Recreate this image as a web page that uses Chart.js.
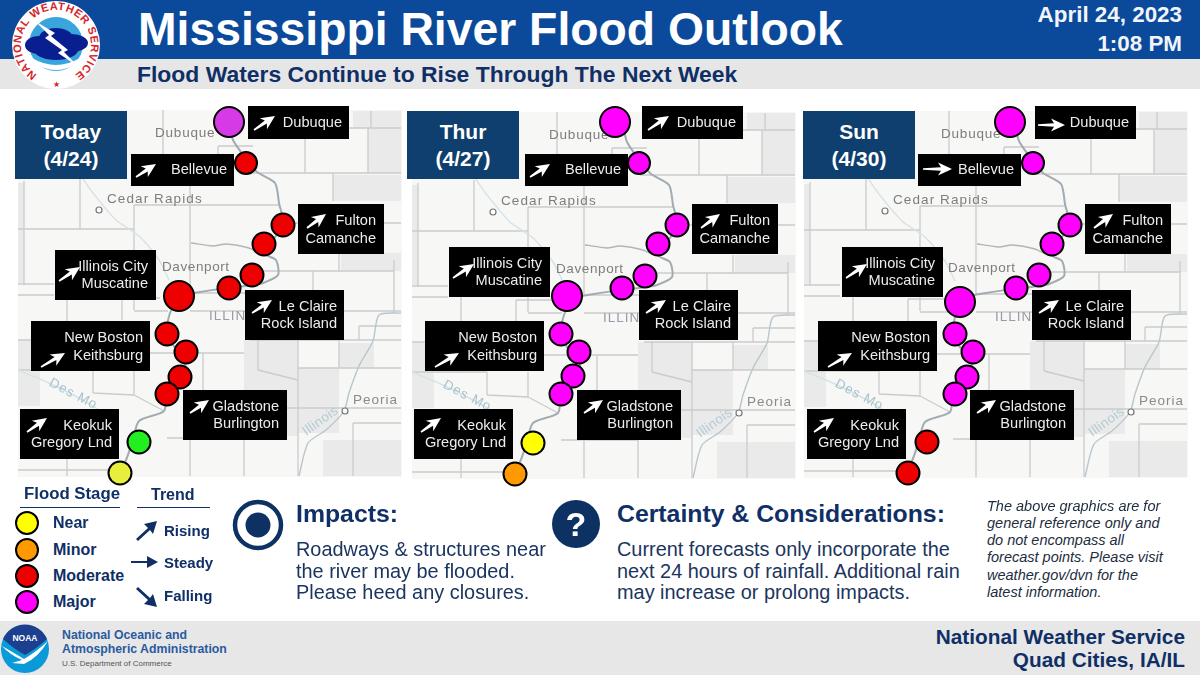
<!DOCTYPE html>
<html>
<head>
<meta charset="utf-8">
<title>Mississippi River Flood Outlook</title>
<script src="https://cdn.jsdelivr.net/npm/chart.js@4/dist/chart.umd.min.js"></script>
<style>
  html, body { margin: 0; padding: 0; background: #fff; }
  #page { position: relative; width: 1200px; height: 675px; overflow: hidden; font-family: "Liberation Sans", Arial, sans-serif; color: #0f2f66; }
  .band { position: absolute; left: 0; width: 1200px; }
  .t { position: absolute; white-space: nowrap; line-height: 1; }
  .b { font-weight: bold; }
  .panel { position: absolute; top: 100px; width: 404px; height: 395px; }
  .panel canvas { position: absolute; left: 0; top: 0; }
  .tab { position: absolute; top: 111px; width: 112px; height: 68px; background: #0e3f6e; color: #fff; font-weight: bold; font-size: 21px; line-height: 27px; text-align: center; padding-top: 7px; box-sizing: border-box; }
  .rule { position: absolute; height: 1px; background: #0f2f66; top: 507px; }
  .body { font-size: 19.9px; color: #1b3560; }
  .note { font-size: 14.5px; font-style: italic; color: #1d2d3e; }
  svg { position: absolute; overflow: visible; }
</style>
</head>
<body>
<div id="page">
  <div class="band" style="top:0;height:59px;background:#0b4a9b"></div>
  <div class="band" style="top:59px;height:30px;background:#e6e6e6"></div>
  <div class="band" style="top:621px;height:54px;background:#e7e7e7"></div>

  <div class="t b" style="left:138px;top:6px;font-size:46.3px;color:#fff">Mississippi River Flood Outlook</div>
  <div class="t b" style="left:137px;top:63px;font-size:22.9px">Flood Waters Continue to Rise Through The Next Week</div>
  <div class="t b" style="right:18px;top:4px;font-size:22.4px;color:#f2f5fa">April 24, 2023</div>
  <div class="t b" style="right:18px;top:33px;font-size:22.4px;color:#f2f5fa">1:08 PM</div>

  <!-- NWS seal -->
  <svg style="left:0;top:0" width="112" height="92">
    <circle cx="56" cy="45" r="44" fill="#fff"/>
    <circle cx="56" cy="44" r="27" fill="#3aa5dc"/>
    <path d="M32 58 Q56 72 80 58 L76 64 Q56 76 36 64Z" fill="#fff"/>
    <ellipse cx="38" cy="45" rx="13" ry="9" fill="#0a1f8f"/>
    <ellipse cx="56" cy="38" rx="17" ry="10" fill="#0a1f8f"/>
    <ellipse cx="72" cy="43" rx="16" ry="9" fill="#0a1f8f"/>
    <ellipse cx="56" cy="50" rx="22" ry="10" fill="#0a1f8f"/>
    <path d="M35 21 L55 33 L51 36 L68 50 L64 52 L79 67 L58 53 L62 50 L45 38 L49 35Z" fill="#fff"/>
    <path id="sealArc" d="M56 80 A35 35 0 0 1 56 10 A35 35 0 0 1 56 80" fill="none"/>
    <text font-family="Liberation Sans" font-weight="bold" font-size="11" fill="#d8232a">
      <textPath href="#sealArc" startOffset="50%" text-anchor="middle" textLength="180">NATIONAL WEATHER SERVICE</textPath>
    </text>
    <text x="56" y="87" text-anchor="middle" font-size="8" fill="#d8232a">★</text>
  </svg>

  <div class="panel" id="p0" style="left:0"><canvas id="c0" width="404" height="395"></canvas></div>
  <div class="panel" id="p1" style="left:394px"><canvas id="c1" width="404" height="395"></canvas></div>
  <div class="panel" id="p2" style="left:786px"><canvas id="c2" width="404" height="395"></canvas></div>
  <div class="tab" style="left:15px">Today<br>(4/24)</div>
  <div class="tab" style="left:407px">Thur<br>(4/27)</div>
  <div class="tab" style="left:803px">Sun<br>(4/30)</div>

  <!-- Legend -->
  <div class="t b" style="left:24px;top:486px;font-size:16.8px">Flood Stage</div>
  <div class="rule" style="left:20px;width:100px"></div>
  <div class="t b" style="left:151px;top:487px;font-size:16px">Trend</div>
  <div class="rule" style="left:137px;width:73px"></div>
  <svg style="left:0;top:510px" width="60" height="110">
    <circle cx="27" cy="13" r="11" fill="#ffff00" stroke="#000" stroke-width="2"/>
    <circle cx="27" cy="40" r="11" fill="#ff9900" stroke="#000" stroke-width="2"/>
    <circle cx="27" cy="66" r="11" fill="#ee0000" stroke="#000" stroke-width="2"/>
    <circle cx="27" cy="92" r="11" fill="#ff00ff" stroke="#000" stroke-width="2"/>
  </svg>
  <div class="t b" style="left:53px;top:515px;font-size:16px">Near</div>
  <div class="t b" style="left:53px;top:542px;font-size:16px">Minor</div>
  <div class="t b" style="left:53px;top:568px;font-size:16px">Moderate</div>
  <div class="t b" style="left:53px;top:594px;font-size:16px">Major</div>
  <svg style="left:130px;top:515px" width="34" height="95" fill="#0f2f66">
    <path d="M6 24 L18 13 L14 9 L27 6 L23 19 L20 15 L8 26Z"/>
    <path d="M1 46 H17 V41 L28 47 L17 53 V48 H1Z"/>
    <path d="M8 72 L20 83 L23 79 L27 92 L14 89 L18 85 L6 74Z"/>
  </svg>
  <div class="t b" style="left:164px;top:523px;font-size:15px">Rising</div>
  <div class="t b" style="left:164px;top:555px;font-size:15px">Steady</div>
  <div class="t b" style="left:164px;top:588px;font-size:15px">Falling</div>

  <!-- Impacts -->
  <svg style="left:230px;top:497px" width="56" height="56">
    <circle cx="28" cy="28" r="23" fill="none" stroke="#0e3163" stroke-width="4.5"/>
    <circle cx="28" cy="28" r="12.5" fill="#0e3163"/>
  </svg>
  <div class="t b" style="left:296px;top:502px;font-size:24.8px">Impacts:</div>
  <div class="t body" style="left:296px;top:540px">Roadways &amp; structures near</div>
  <div class="t body" style="left:296px;top:562px">the river may be flooded.</div>
  <div class="t body" style="left:296px;top:583px">Please heed any closures.</div>

  <!-- Certainty -->
  <svg style="left:552px;top:500px" width="48" height="48">
    <circle cx="24" cy="24" r="24" fill="#0e3163"/>
    <text x="24" y="36" text-anchor="middle" font-family="Liberation Sans" font-weight="bold" font-size="34" fill="#fff">?</text>
  </svg>
  <div class="t b" style="left:617px;top:502px;font-size:24.8px">Certainty &amp; Considerations:</div>
  <div class="t body" style="left:617px;top:540px">Current forecasts only incorporate the</div>
  <div class="t body" style="left:617px;top:562px">next 24 hours of rainfall. Additional rain</div>
  <div class="t body" style="left:617px;top:583px">may increase or prolong impacts.</div>

  <div class="t note" style="left:987px;top:499px">The above graphics are for</div>
  <div class="t note" style="left:987px;top:516px">general reference only and</div>
  <div class="t note" style="left:987px;top:533px">do not encompass all</div>
  <div class="t note" style="left:987px;top:550px">forecast points. Please visit</div>
  <div class="t note" style="left:987px;top:568px">weather.gov/dvn for the</div>
  <div class="t note" style="left:987px;top:585px">latest information.</div>

  <!-- NOAA -->
  <svg style="left:0;top:622px" width="52" height="52">
    <circle cx="25" cy="27" r="24" fill="#0a9ad8"/>
    <path d="M3 17 A24 24 0 0 1 47 17 Q36 27 25 33 Q14 27 3 17Z" fill="#1d3f8f"/>
    <path d="M2 24 Q16 32 24 37 Q36 30 48 19 Q38 36 24 42 L12 41 L22 38 Q10 33 2 24Z" fill="#fff"/>
    <text x="25" y="19" text-anchor="middle" font-family="Liberation Sans" font-weight="bold" font-size="8.5" fill="#fff">NOAA</text>
  </svg>
  <div class="t b" style="left:62px;top:629px;font-size:12.3px;color:#2a5aa0">National Oceanic and</div>
  <div class="t b" style="left:62px;top:643px;font-size:12.3px;color:#2a5aa0">Atmospheric Administration</div>
  <div class="t" style="left:62px;top:660px;font-size:8px;color:#555">U.S. Department of Commerce</div>
  <div class="t b" style="right:15px;top:627px;font-size:20.8px">National Weather Service</div>
  <div class="t b" style="right:15px;top:650px;font-size:20.8px">Quad Cities, IA/IL</div>
</div>

<script>
// Forecast points, north to south. Illinois City and Muscatine share one dot
const sites = ['Dubuque', 'Bellevue', 'Fulton', 'Camanche', 'Le Claire', 'Rock Island', 'Muscatine',
  'New Boston', 'Keithsburg', 'Gladstone', 'Burlington', 'Keokuk', 'Gregory Lnd'];

const stageToday = ['majorToday', 'moderate', 'moderate', 'moderate', 'moderate', 'moderate', 'moderate',
  'moderate', 'moderate', 'moderate', 'moderate', 'none', 'nearToday'];
const stageThur = ['major', 'major', 'major', 'major', 'major', 'major', 'major',
  'major', 'major', 'major', 'major', 'near', 'minor'];
const stageSun = ['major', 'major', 'major', 'major', 'major', 'major', 'major',
  'major', 'major', 'major', 'major', 'moderate', 'moderate'];

const xToday = [229, 246, 283, 264, 252, 229, 179, 167, 186, 180, 167, 139, 120];
const yToday = [122, 163, 225, 244, 275, 288, 296, 334, 352, 377, 394, 442, 473];
const xThur = [221, 245, 283, 264, 251, 228, 173, 167, 185, 179, 167, 139, 121];
const yThur = [122, 163, 225, 244, 276, 288, 296, 334, 352, 376, 394, 443, 474];
const xSun = [224, 247, 284, 266, 253, 230, 174, 169, 187, 181, 169, 141, 122];
const ySun = [122, 163, 225, 244, 275, 288, 302, 334, 352, 377, 394, 442, 473];
const dotSize = [15, 11, 11.5, 11.5, 11.5, 11.5, 15, 11.5, 11.5, 11.5, 11.5, 11.5, 11.5];

// Trend per label box: Dubuque, Bellevue, Fulton/Camanche, Illinois City/Muscatine,
// Le Claire/Rock Island, New Boston/Keithsburg, Gladstone/Burlington, Keokuk/Gregory
const boxLines = [['Dubuque'], ['Bellevue'], ['Fulton', 'Camanche'], ['Illinois City', 'Muscatine'],
  ['Le Claire', 'Rock Island'], ['New Boston', 'Keithsburg'], ['Gladstone', 'Burlington'], ['Keokuk', 'Gregory Lnd']];
const trendToday = ['rising', 'rising', 'rising', 'rising', 'rising', 'rising', 'rising', 'rising'];
const trendThur = ['rising', 'rising', 'rising', 'rising', 'rising', 'rising', 'rising', 'rising'];
const trendSun = ['steady', 'steady', 'rising', 'rising', 'rising', 'rising', 'rising', 'rising'];

const stageColors = {
  none: '#22ee22', nearToday: '#e8ee3e', near: '#ffff00', minor: '#ff9900',
  moderate: '#ee0000', major: '#ff00ff', majorToday: '#d63ae6',
};

// Map linework, in the same x/y units as the dots
const riverX = [229, 233, 247, 257, 275, 279, 283, 264, 276, 278, 263, 252, 228, 200, 180, 170, 167, 177, 187, 180, 167, 164, 139, 133, 126, 119];
const riverY = [122, 140, 160, 172, 183, 203, 225, 253, 260, 275, 283, 285, 288, 292, 297, 313, 333, 350, 357, 377, 393, 411, 421, 440, 460, 471];
const cedarX = [81, 93, 116, 139, 159, 169];
const cedarY = [176, 193, 220, 236, 260, 280];
const rockX = [191, 213, 226, 249, 259];
const rockY = [243, 246, 244, 248, 253];
const illinoisX = [401, 379, 373, 359, 349, 344, 326, 308, 299];
const illinoisY = [313, 315, 341, 366, 393, 411, 430, 443, 476];
const desMoinesX = [18, 49, 93, 115];
const desMoinesY = [370, 383, 406, 425];
const cityX = [99, 345];
const cityY = [210, 411];
const countySegments = [
  [24, 181, 24, 285], [18, 229, 134, 229], [134, 205, 134, 310], [134, 205, 279, 205],
  [190, 183, 190, 293], [80, 178, 80, 229], [18, 284, 54, 284], [67, 295, 67, 370],
  [18, 295, 54, 295], [122, 298, 122, 320], [134, 311, 168, 311], [190, 311, 401, 311],
  [122, 298, 160, 298], [190, 293, 246, 293], [18, 340, 38, 340], [93, 370, 93, 393],
  [18, 370, 93, 370], [134, 370, 134, 395], [93, 393, 134, 395], [134, 395, 164, 411],
  [203, 353, 203, 390], [149, 353, 244, 353], [190, 438, 190, 476], [244, 438, 244, 476],
  [18, 470, 125, 470], [67, 457, 67, 476], [167, 438, 244, 438], [305, 135, 305, 173],
  [246, 173, 401, 173], [339, 128, 401, 128], [371, 111, 371, 128], [368, 128, 368, 173],
  [333, 173, 333, 201], [293, 223, 401, 223], [339, 253, 339, 271], [263, 271, 394, 271],
  [394, 260, 394, 313], [313, 271, 313, 290], [250, 340, 401, 340], [298, 340, 298, 476],
  [339, 340, 339, 368], [298, 368, 401, 368], [359, 326, 359, 340], [359, 326, 401, 326],
  [258, 340, 258, 370], [258, 370, 298, 380], [286, 408, 401, 408], [353, 423, 353, 476],
  [353, 423, 401, 423], [218, 146, 253, 146], [218, 146, 218, 155], [163, 110, 163, 154],
];
// [left, top, right, bottom] of the greyer counties
const shadedCounties = [
  [333, 175, 401, 201], [341, 253, 401, 271], [244, 340, 298, 436], [298, 368, 339, 433],
  [339, 343, 374, 368], [368, 128, 401, 173], [353, 111, 401, 128], [18, 370, 40, 406],
  [18, 183, 24, 283], [323, 440, 401, 476], [18, 340, 38, 370],
];
const mapFrame = [18, 110, 402, 477];
const mapLabels = [
  { text: 'Dubuque', x: 155, y: 133, color: '#7d7d7d', gap: '0.8px' },
  { text: 'Cedar Rapids', x: 107, y: 199, color: '#7d7d7d', gap: '1.1px' },
  { text: 'Davenport', x: 162, y: 267, color: '#7d7d7d', gap: '0.6px' },
  { text: 'ILLIN', x: 209, y: 316, color: '#9a9aa8', gap: '1px' },
  { text: 'Peoria', x: 353, y: 400, color: '#8a8a8a', gap: '1px' },
  { text: 'Des Mo', x: 50, y: 382, color: '#a9c3ce', gap: '1px', angle: 0.48 },
  { text: 'Illinois', x: 304, y: 433, color: '#b4cbd4', gap: '0.4px', angle: -0.62 },
];

// Box layout: rect, arrow tail/tip, right edge of text, text line centres
const boxLayout = [
  { x: 248, y: 106, w: 101, h: 33, a: [254, 130, 275, 116], s: [251, 125, 278], r: 342, l: [123] },
  { x: 131, y: 154, w: 103, h: 32, a: [136, 177, 156, 164], s: [136, 169, 165], r: 227, l: [170] },
  { x: 298, y: 204, w: 86, h: 50, a: [307, 228, 326, 214], r: 376, l: [221, 239] },
  { x: 55, y: 250, w: 101, h: 50, a: [59, 281, 80, 267], r: 148, l: [267, 284] },
  { x: 245, y: 290, w: 99, h: 50, a: [252, 313, 272, 300], r: 337, l: [307, 324] },
  { x: 31, y: 321, w: 119, h: 50, a: [41, 367, 65, 353], r: 143, l: [338, 356] },
  { x: 183, y: 390, w: 104, h: 50, a: [190, 413, 209, 400], r: 279, l: [407, 424] },
  { x: 20, y: 409, w: 99, h: 50, a: [27, 432, 47, 418], r: 112, l: [426, 443] },
];

const panels = [
  { id: 'c0', xs: xToday, ys: yToday, stages: stageToday, trends: trendToday, mapDy: 0, boxDx: 0, illDy: 0 },
  { id: 'c1', xs: xThur, ys: yThur, stages: stageThur, trends: trendThur, mapDy: 2, boxDx: 0, illDy: -3 },
  { id: 'c2', xs: xSun, ys: ySun, stages: stageSun, trends: trendSun, mapDy: 1, boxDx: 1, illDy: -3 },
];

function drawArrow(ctx, x1, y1, x2, y2) {
  const len = Math.hypot(x2 - x1, y2 - y1);
  const ux = (x2 - x1) / len, uy = (y2 - y1) / len;
  const nx = -uy, ny = ux;
  const neck = len - 11, barb = len - 14;
  const pt = (along, side) => [x1 + ux * along + nx * side, y1 + uy * along + ny * side];
  const pts = [pt(0, -0.8), pt(neck, -1.8), pt(barb, -6.5), pt(len, 0), pt(barb, 6.5), pt(neck, 1.8), pt(0, 0.8)];
  ctx.beginPath();
  pts.forEach((p, i) => (i ? ctx.lineTo(p[0], p[1]) : ctx.moveTo(p[0], p[1])));
  ctx.closePath();
  ctx.fill();
}

// Draws map names and the black label boxes just under the dots
const overlayPlugin = {
  id: 'overlay',
  beforeDatasetDraw(chart, args, opts) {
    if (args.index !== 0) return;
    const ctx = chart.ctx;
    const sx = chart.scales.x, sy = chart.scales.y;
    ctx.save();
    ctx.textBaseline = 'middle';
    mapLabels.forEach(m => {
      ctx.save();
      ctx.translate(sx.getPixelForValue(m.x), sy.getPixelForValue(m.y + opts.mapDy));
      if (m.angle) ctx.rotate(m.angle);
      ctx.font = '13.5px "Liberation Sans"';
      ctx.letterSpacing = m.gap;
      ctx.fillStyle = m.color;
      ctx.textAlign = 'left';
      ctx.fillText(m.text, 0, 0);
      ctx.restore();
    });
    boxLayout.forEach((b, i) => {
      const dx = opts.boxDx;
      const dy = i === 3 ? opts.illDy : 0;
      const px = v => sx.getPixelForValue(v + dx);
      const py = v => sy.getPixelForValue(v + dy);
      ctx.fillStyle = '#000';
      ctx.fillRect(px(b.x), py(b.y), b.w, b.h);
      ctx.fillStyle = '#fff';
      if (opts.trends[i] === 'steady') {
        drawArrow(ctx, px(b.s[0]), py(b.s[1]), px(b.s[2]), py(b.s[1]));
      } else {
        drawArrow(ctx, px(b.a[0]), py(b.a[1]), px(b.a[2]), py(b.a[3]));
      }
      ctx.font = '14.6px "Liberation Sans"';
      ctx.textAlign = 'right';
      ctx.fillStyle = '#ececec';
      boxLines[i].forEach((line, k) => ctx.fillText(line, px(b.r), py(b.l[k])));
    });
    ctx.restore();
  },
};

function lineSet(xs, ys, dy, color, width) {
  return {
    data: xs.map((x, i) => ({ x, y: ys[i] + dy })),
    showLine: true, borderColor: color, borderWidth: width, pointRadius: 0, fill: false, tension: 0.25,
  };
}

function rectSet(r, dy, color) {
  return {
    data: [
      { x: r[0], y: r[1] + dy }, { x: r[2], y: r[1] + dy }, { x: r[2], y: r[3] + dy },
      { x: r[0], y: r[3] + dy }, { x: r[0], y: r[1] + dy },
    ],
    showLine: true, borderWidth: 0, borderColor: color, backgroundColor: color, pointRadius: 0, fill: 'shape',
  };
}

function countySet(dy) {
  const data = [];
  countySegments.forEach(s => {
    data.push({ x: s[0], y: s[1] + dy }, { x: s[2], y: s[3] + dy }, { x: NaN, y: NaN });
  });
  return { data, showLine: true, spanGaps: false, borderColor: '#cbcbcb', borderWidth: 1.3, pointRadius: 0, fill: false };
}

panels.forEach(p => {
  const dy = p.mapDy;
  new Chart(document.getElementById(p.id), {
    type: 'scatter',
    data: {
      datasets: [
        {
          label: 'Flood stage',
          data: sites.map((name, i) => ({ x: p.xs[i], y: p.ys[i], name })),
          pointRadius: dotSize,
          pointBackgroundColor: p.stages.map(s => stageColors[s]),
          pointBorderColor: '#000',
          pointBorderWidth: 2,
          showLine: false,
        },
        {
          label: 'Cities',
          data: cityX.map((x, i) => ({ x, y: cityY[i] + dy })),
          pointRadius: 3, pointBackgroundColor: '#fff', pointBorderColor: '#777', pointBorderWidth: 1.2, showLine: false,
        },
        lineSet(riverX, riverY, dy, '#a0abb2', 2),
        lineSet(rockX, rockY, dy, '#b0b6b9', 1.3),
        lineSet(cedarX, cedarY, dy, '#d4e3e8', 1.4),
        lineSet(illinoisX, illinoisY, dy, '#b9c6cb', 1.4),
        lineSet(desMoinesX, desMoinesY, dy, '#d4e3e8', 1.4),
        countySet(dy),
        ...shadedCounties.map(r => rectSet(r, dy, '#eaeaea')),
        rectSet(mapFrame, dy, '#f7f7f5'),
      ],
    },
    options: {
      responsive: false,
      animation: false,
      events: [],
      layout: { padding: 0, autoPadding: false },
      clip: false,
      scales: {
        x: { type: 'linear', min: 0, max: 404, display: false },
        y: { type: 'linear', min: 100, max: 495, reverse: true, display: false },
      },
      plugins: {
        legend: { display: false },
        tooltip: { enabled: false },
        overlay: { mapDy: dy, boxDx: p.boxDx, illDy: p.illDy, trends: p.trends },
      },
    },
    plugins: [overlayPlugin],
  });
});
</script>
</body>
</html>
